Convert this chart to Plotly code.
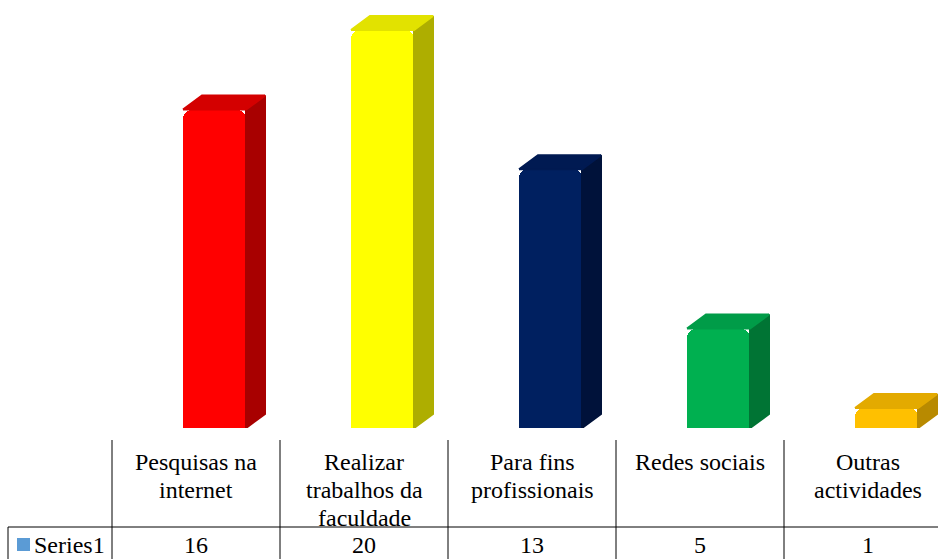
import plotly.graph_objects as go

# ---- data ----
categories = [["Pesquisas na", "internet"], ["Realizar", "trabalhos da", "faculdade"],
              ["Para fins", "profissionais"], ["Redes sociais"], ["Outras", "actividades"]]
values = [16, 20, 13, 5, 1]
series_name = "Series1"

# ---- styles ----
front_colors = ["#FF0000", "#FFFF00", "#002060", "#00B050", "#FFC000"]
top_colors = ["#D40000", "#E2E200", "#001A52", "#009C48", "#E3AA00"]
side_colors = ["#A80000", "#AEAE00", "#00123A", "#007434", "#B88A00"]
FONT = "Liberation Serif"
FSIZE = 24

W, H = 938, 559
col_px = 168.0
left_px = 112.0
zero_px = 428.0       # pixel row of value 0
px_per_unit = 19.9
x_range = [-0.5, -0.5 + (W - left_px) / col_px]
y_top = zero_px / px_per_unit

bar_off = -13 / col_px
bar_w = 63 / col_px
dx = 19 / col_px
dy = 14 / px_per_unit

xs = list(range(len(values)))

fig = go.Figure()

# 3D extrusion faces (side + top), computed from the data values
for i, v in zip(xs, values):
    xl = i + bar_off
    xr = xl + bar_w
    fig.add_trace(go.Scatter(
        x=[xr, xr + dx, xr + dx, xr, xr], y=[0, dy, v + dy, v, 0],
        fill="toself", mode="lines", line=dict(width=2, color=side_colors[i]),
        fillcolor=side_colors[i], hoverinfo="skip", showlegend=False))
    fig.add_trace(go.Scatter(
        x=[xl, xl + dx, xr + dx, xr, xl], y=[v, v + dy, v + dy, v, v],
        fill="toself", mode="lines", line=dict(width=2, color=top_colors[i]),
        fillcolor=top_colors[i], hoverinfo="skip", showlegend=False))

# front faces
fig.add_trace(go.Bar(
    x=xs, y=values, width=bar_w, offset=bar_off,
    marker=dict(color=front_colors, line=dict(width=0), cornerradius=9),
    name=series_name, showlegend=False))

# ---- data table below ----
def xpx(xdata):
    return left_px + (xdata - x_range[0]) * col_px

def paper_x(px):
    return px / W

def paper_y(py):
    return (H - py) / H

shapes = []
line = dict(color="black", width=1)
for i in xs:
    bx = paper_x(xpx(i - 0.5))
    shapes.append(dict(type="line", xref="paper", yref="paper",
                       x0=bx, x1=bx, y0=paper_y(440), y1=0, line=line))
shapes.append(dict(type="line", xref="paper", yref="paper",
                   x0=paper_x(8), x1=1, y0=paper_y(527), y1=paper_y(527), line=line))
shapes.append(dict(type="line", xref="paper", yref="paper",
                   x0=paper_x(8), x1=paper_x(8), y0=paper_y(527), y1=0, line=line))
# legend key square
shapes.append(dict(type="rect", xref="paper", yref="paper",
                   x0=paper_x(17), x1=paper_x(30), y0=paper_y(551), y1=paper_y(538),
                   fillcolor="#5B9BD5", line=dict(width=0)))

annotations = []
for i, (lines, v) in enumerate(zip(categories, values)):
    for k, t in enumerate(lines):
        annotations.append(dict(x=i, xref="x", y=paper_y(462 + 28 * k), yref="paper",
                                text=t, showarrow=False, xanchor="center", yanchor="middle",
                                font=dict(family=FONT, size=FSIZE, color="black")))
    annotations.append(dict(x=i, xref="x", y=paper_y(545), yref="paper",
                            text=str(v), showarrow=False, xanchor="center", yanchor="middle",
                            font=dict(family=FONT, size=FSIZE, color="black")))
annotations.append(dict(x=paper_x(32), xref="paper", y=paper_y(545), yref="paper",
                        text=series_name, showarrow=False, xanchor="left", yanchor="middle",
                        font=dict(family=FONT, size=FSIZE, color="black")))

fig.update_layout(
    width=W, height=H,
    margin=dict(l=0, r=0, t=0, b=0),
    paper_bgcolor="white", plot_bgcolor="white",
    xaxis=dict(range=x_range, domain=[left_px / W, 1], visible=False, fixedrange=True),
    yaxis=dict(range=[0, y_top], domain=[(H - zero_px) / H, 1], visible=False, fixedrange=True),
    shapes=shapes, annotations=annotations,
    showlegend=False, bargap=0,
)

fig.write_html("out.html")
